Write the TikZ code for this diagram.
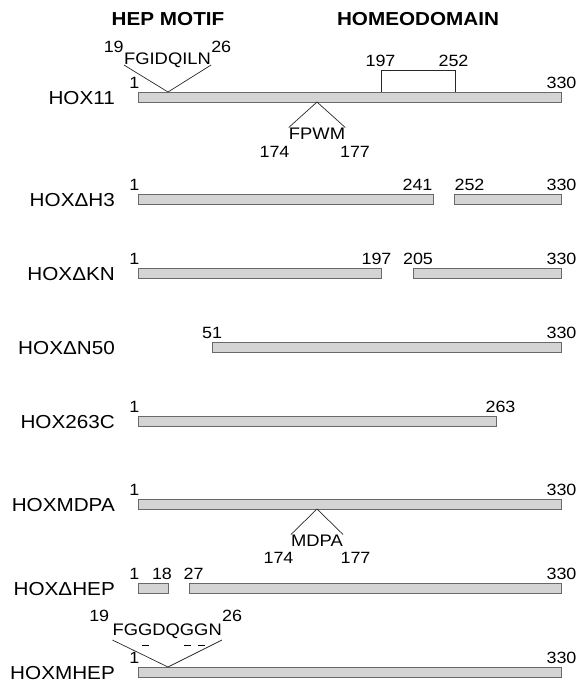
\documentclass[tikz,border=0pt]{standalone}
\usepackage{fontspec}
\setmainfont[FakeStretch=1.1]{Liberation Sans}
\usetikzlibrary{positioning,calc}
\definecolor{barfill}{RGB}{212,212,212}
\definecolor{barline}{RGB}{105,105,105}
\definecolor{linkcolor}{RGB}{40,40,40}

% short dash under a mutated residue
\newcommand{\mutres}[1]{\leavevmode\setbox0\hbox{#1}\rlap{\hbox to \wd0{\hss\rule[-11pt]{7pt}{0.8pt}\hss}}#1}

\tikzset{
  bar/.style={draw=barline, fill=barfill, line width=0.8pt, rectangle,
    inner sep=0pt, minimum height=10pt, anchor=north west},
  constr/.style={font=\fontsize{18.8}{20}\selectfont, anchor=east, inner sep=0pt},
  resnum/.style={font=\fontsize{16.3}{18}\selectfont, inner sep=0pt},
  motif/.style={font=\fontsize{16.7}{18}\selectfont, inner sep=0pt},
  domtitle/.style={font=\fontsize{18.8}{20}\selectfont\bfseries, inner sep=0pt},
  vline/.style={draw=linkcolor, line width=0.7pt}
}

\begin{document}
\begin{tikzpicture}[x=1pt,y=-1pt]
\useasboundingbox (0,0) rectangle (578,685);

% ---- Titles ----
\node[domtitle] (heptitle) at (168,19) {HEP MOTIF};
\node[domtitle] (hdtitle) at (418,19) {HOMEODOMAIN};

% ---- Construct names ----
\foreach \n/\t/\y in {hox11/HOX11/92, dhthree/HOXΔH3/194, dkn/HOXΔKN/268,
    dnfifty/HOXΔN50/342, cterm/HOX263C/416, mdpa/HOXMDPA/499,
    dhep/HOXΔHEP/583, mhep/HOXMHEP/667} {
  \node[constr] (\n) at (115,\y+6) {\t};
}

% ---- Protein bars ----
\foreach \n/\a/\b/\y in {hox11bar/138/561/92,
    dhthreebarA/138/433/194, dhthreebarB/454/561/194,
    dknbarA/138/381/268, dknbarB/413/561/268,
    dnfiftybar/212/561/342, ctermbar/138/496/416, mdpabar/138/561/499,
    dhepbarA/138/168/583, dhepbarB/189/561/583, mhepbar/138/561/667} {
  \node[bar, minimum width={(\b-\a)*1pt}] (\n) at (\a,\y) {};
}

% ---- Residue numbers ----
\foreach \n/\y in {hox11/92, dhthree/194, dkn/268, cterm/416, mdpa/499,
    dhep/583, mhep/667} {
  \node[resnum, anchor=south east] (\n-one) at (139.5,\y-3.5) {1};
}
\foreach \n/\t/\x/\y in {hox11/330/561.5/92,
    dhthree/241/417.5/194, dhthree/252/469.5/194, dhthree/330/561.5/194,
    dkn/197/376.5/268, dkn/205/418/268, dkn/330/561.5/268,
    dnfifty/51/212/342, dnfifty/330/561.5/342,
    cterm/263/500.5/416, mdpa/330/561.5/499,
    dhep/18/162/583, dhep/27/193.5/583, dhep/330/561.5/583,
    mhep/330/561.5/667} {
  \node[resnum, anchor=south] (\n-\t) at (\x,\y-3.5) {\t};
}

% ---- Homeodomain bracket ----
\coordinate (hdstart) at (381,92);
\coordinate (hdend) at (455,92);
\draw[vline] (hdstart) -- ++(0,-22) -| (hdend);
\node[resnum, anchor=south] (hd197) at (380.5,67) {197};
\node[resnum, anchor=south] (hd252) at (453.5,67) {252};

% ---- HEP motif ----
\node[motif, anchor=base] (hepseq) at (167.5,65) {FGIDQILN};
\coordinate (hepapex) at (168,92);
\draw[vline] (hepseq.base west) -- (hepapex) -- (hepseq.base east);
\node[resnum, anchor=south east] (hep19) at (hepseq.north west) {19};
\node[resnum, anchor=south west] (hep26) at (hepseq.north east) {26};

% ---- FPWM motif ----
\node[motif, anchor=north] (fpwm) at (317,127.5) {FPWM};
\coordinate (fpwmapex) at (317,102);
\draw[vline] (fpwm.north west) -- (fpwmapex) -- (fpwm.north east);
\node[resnum, anchor=south] (fpwm174) at (274.5,158) {174};
\node[resnum, anchor=south] (fpwm177) at (355,158) {177};

% ---- MDPA substitution ----
\node[motif, anchor=north] (mdpaseq) at (317,534.5) {MDPA};
\coordinate (mdpaapex) at (317,509);
\draw[vline] (mdpaseq.north west) -- (mdpaapex) -- (mdpaseq.north east);
\node[resnum, anchor=south] (mdpa174) at (278.5,564) {174};
\node[resnum, anchor=south] (mdpa177) at (355.5,564) {177};

% ---- Mutated HEP motif ----
\node[motif, anchor=base] (mhepseq) at (167.2,635)
  {FG\mutres{G}DQ\mutres{G}\mutres{G}N};
\coordinate (mhepapex) at (168,667);
\draw[vline] ($(mhepseq.base west)+(0,5)$) -- (mhepapex)
  -- ($(mhepseq.base east)+(0,5)$);
\node[resnum, anchor=south east] (mhep19) at ($(mhepseq.north west)+(-3,-1)$) {19};
\node[resnum, anchor=south west] (mhep26) at ($(mhepseq.north east)+(0,-1)$) {26};

\end{tikzpicture}
\end{document}
